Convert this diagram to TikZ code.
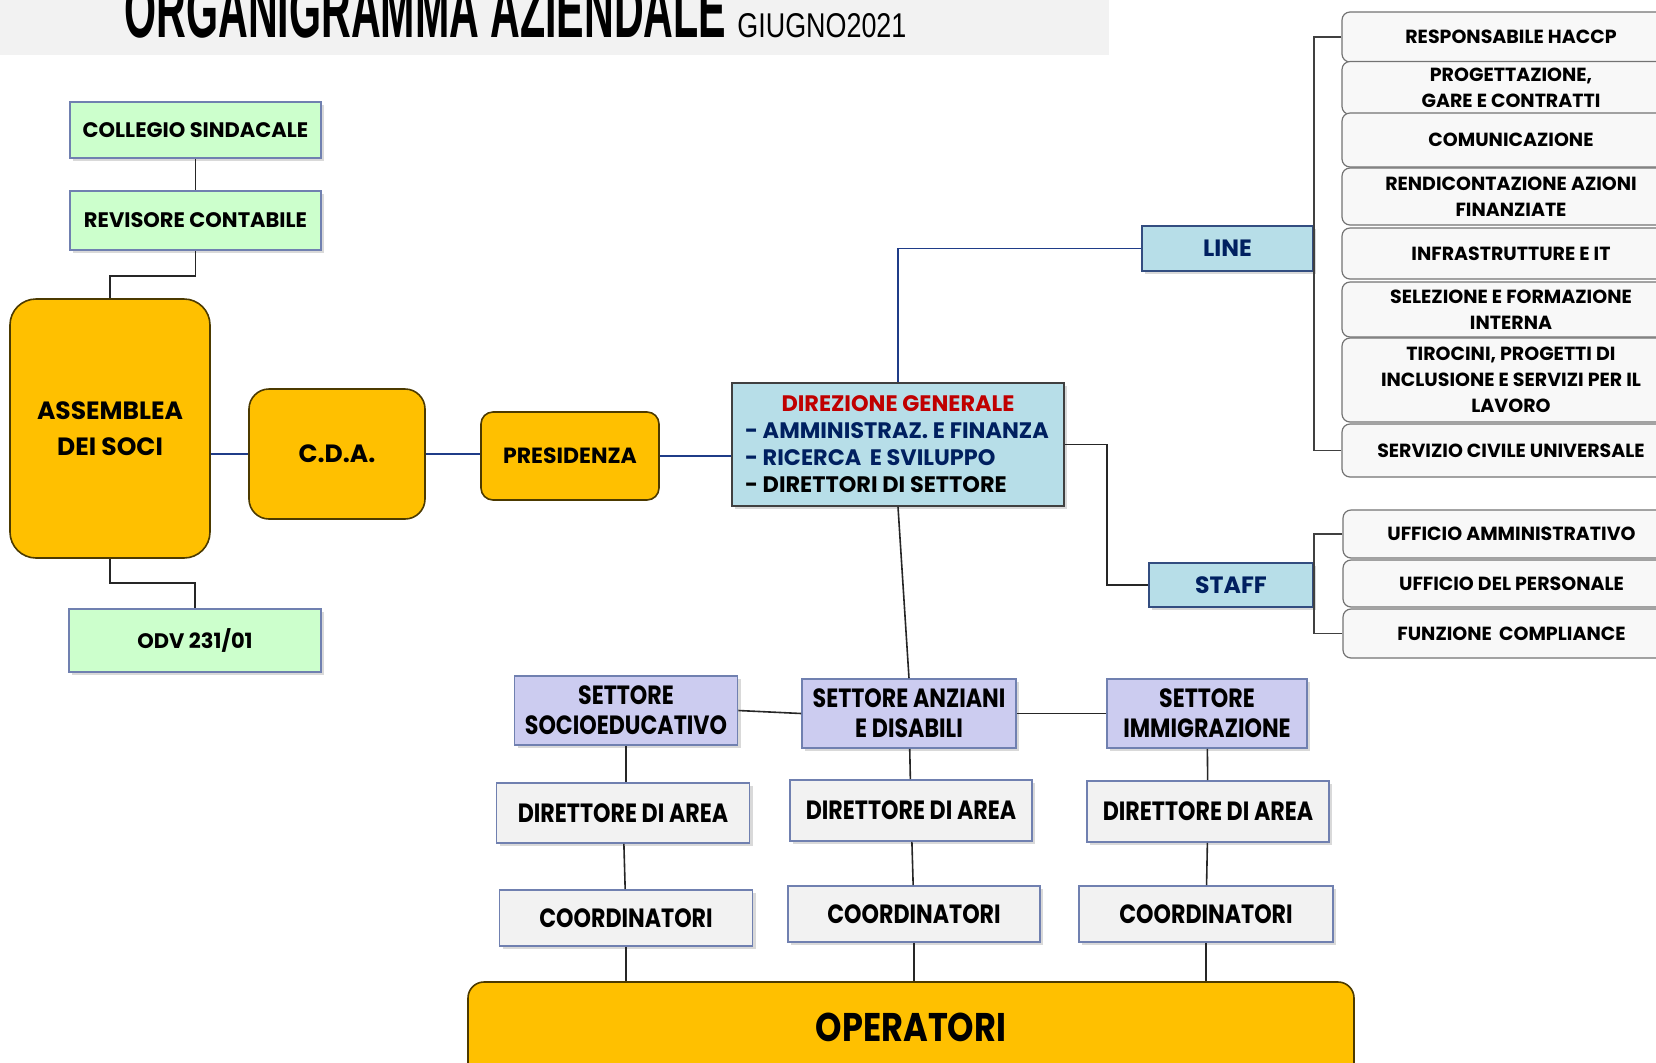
\documentclass[tikz,border=0pt]{standalone}
\usepackage{fontspec}
\usepackage{graphicx}
\setmainfont{Poppins}
\newfontfamily\condfont[FakeStretch=0.84]{Poppins}
\newfontfamily\titlefont{Liberation Sans}
\usetikzlibrary{shadows}

\definecolor{verde}{HTML}{CCFFCC}
\definecolor{arancio}{HTML}{FFC000}
\definecolor{azzurro}{HTML}{B7DEE8}
\definecolor{lilla}{HTML}{CCCCF0}
\definecolor{grigio}{HTML}{F2F2F2}
\definecolor{bianco}{HTML}{F8F8F8}
\definecolor{bordo}{HTML}{7080B0}
\definecolor{blu}{HTML}{1F3C88}
\definecolor{navy}{HTML}{002060}
\definecolor{rosso}{HTML}{C00000}
\definecolor{barra}{HTML}{F2F2F2}

\tikzset{
  ombra/.style={drop shadow={shadow xshift=1.5pt, shadow yshift=-1.5pt, opacity=0.3}},
  box/.style={draw=bordo, line width=0.8pt, inner sep=2pt, align=center},
  organo/.style={box, fill=verde, ombra, font=\fontsize{10.5}{12}\selectfont\bfseries},
  vertice/.style={draw=black!70!arancio, line width=0.8pt, fill=arancio, align=center, font=\fontsize{12.5}{18}\selectfont\bfseries},
  funzione/.style={draw=navy!80, line width=0.8pt, fill=azzurro, ombra, text=navy, font=\fontsize{11.8}{13}\selectfont\bfseries},
  voce/.style={draw=black!55, line width=0.6pt, fill=bianco, rounded corners=4pt, align=center, font=\fontsize{9.5}{13}\selectfont\bfseries},
  settore/.style={box, fill=lilla, ombra, font=\condfont\fontsize{13.2}{15}\selectfont\bfseries},
  livello/.style={box, fill=grigio, ombra, font=\condfont\fontsize{13.2}{15}\selectfont\bfseries},
  filo/.style={draw=black!85, line width=0.8pt},
  filoblu/.style={draw=blu, line width=0.9pt},
}

\begin{document}
\begin{tikzpicture}[x=0.5pt, y=-0.5pt]
  \useasboundingbox (0,0) rectangle (1656,1062);

  % intestazione
  \fill[barra] (0,0) rectangle (1109,55);
  \node[anchor=base west, inner sep=0] (titolo) at (124,37) {\resizebox{301pt}{28pt}{\titlefont\bfseries ORGANIGRAMMA AZIENDALE}};
  \node[anchor=base west, inner sep=0] (data) at (737,37) {\resizebox{84.5pt}{12pt}{\titlefont GIUGNO2021}};

  % organi di controllo e vertice
  \node[organo, minimum width=125.5pt, minimum height=28pt] (collegio) at (195.5,130) {COLLEGIO SINDACALE};
  \node[organo, minimum width=125.5pt, minimum height=29.5pt] (revisore) at (195.5,220.5) {REVISORE CONTABILE};
  \node[organo, minimum width=126pt, minimum height=31.5pt] (odv) at (195,640.5) {ODV 231/01};
  \node[vertice, rounded corners=13pt, minimum width=100pt, minimum height=129.5pt] (assemblea) at (110,428.5) {ASSEMBLEA\\DEI SOCI};
  \node[vertice, rounded corners=10pt, minimum width=88pt, minimum height=65pt] (cda) at (337,454) {C.D.A.};
  \node[vertice, rounded corners=6pt, minimum width=89pt, minimum height=44pt, font=\fontsize{11}{13}\selectfont\bfseries] (presidenza) at (570,456) {PRESIDENZA};

  \node[draw=black!75, line width=0.8pt, fill=azzurro, ombra, minimum width=166pt, minimum height=61.5pt, align=center,
        font=\fontsize{11.2}{13.5}\selectfont\bfseries] (direzione) at (898,444.5)
        {\textcolor{rosso}{DIREZIONE GENERALE}\\
         \makebox[153pt][l]{\textcolor{navy}{- AMMINISTRAZ. E FINANZA}}\\
         \makebox[153pt][l]{\textcolor{navy}{- RICERCA \,E SVILUPPO}}\\
         \makebox[153pt][l]{- DIRETTORI DI SETTORE}};

  \node[funzione, minimum width=85.5pt, minimum height=22.5pt] (line) at (1227.5,248.5) {LINE};
  \node[funzione, minimum width=82pt, minimum height=22pt] (staff) at (1231,585) {STAFF};

  % funzioni line
  \node[voce, minimum width=169pt, minimum height=25pt] (haccp) at (1511,37) {RESPONSABILE HACCP};
  \node[voce, minimum width=169pt, minimum height=24pt] (gare) at (1511,88) {PROGETTAZIONE,\\GARE E CONTRATTI};
  \node[voce, minimum width=169pt, minimum height=27pt] (comunicazione) at (1511,140) {COMUNICAZIONE};
  \node[voce, minimum width=169pt, minimum height=28.5pt] (rendiconto) at (1511,196.5) {RENDICONTAZIONE AZIONI\\FINANZIATE};
  \node[voce, minimum width=169pt, minimum height=25.5pt] (infra) at (1511,253.5) {INFRASTRUTTURE E IT};
  \node[voce, minimum width=169pt, minimum height=27.5pt] (selezione) at (1511,309.5) {SELEZIONE E FORMAZIONE\\INTERNA};
  \node[voce, minimum width=169pt, minimum height=42pt] (tirocini) at (1511,380) {TIROCINI, PROGETTI DI\\INCLUSIONE E SERVIZI PER IL\\LAVORO};
  \node[voce, minimum width=169pt, minimum height=26.5pt] (civile) at (1511,450.5) {SERVIZIO CIVILE UNIVERSALE};

  % funzioni staff
  \node[voce, minimum width=168.5pt, minimum height=24pt] (ufficioamm) at (1511.5,534) {UFFICIO AMMINISTRATIVO};
  \node[voce, minimum width=168.5pt, minimum height=23.5pt] (personale) at (1511.5,583.5) {UFFICIO DEL PERSONALE};
  \node[voce, minimum width=168.5pt, minimum height=24.5pt] (compliance) at (1511.5,633.5) {FUNZIONE \,COMPLIANCE};

  % settori
  \node[settore, minimum width=111.5pt, minimum height=34.5pt] (socio) at (626,710.5) {SETTORE\\SOCIOEDUCATIVO};
  \node[settore, minimum width=107pt, minimum height=34.5pt] (anziani) at (909,713.5) {SETTORE ANZIANI\\E DISABILI};
  \node[settore, minimum width=100pt, minimum height=34.5pt] (immigrazione) at (1207,713.5) {SETTORE\\IMMIGRAZIONE};

  \node[livello, minimum width=126.5pt, minimum height=30pt] (dirsocio) at (623,813) {DIRETTORE DI AREA};
  \node[livello, minimum width=121pt, minimum height=30.5pt] (diranziani) at (911,810.5) {DIRETTORE DI AREA};
  \node[livello, minimum width=121pt, minimum height=30.5pt] (dirimmigr) at (1208,811.5) {DIRETTORE DI AREA};

  \node[livello, minimum width=126.5pt, minimum height=28pt] (coosocio) at (626,918) {COORDINATORI};
  \node[livello, minimum width=126pt, minimum height=28pt] (cooanziani) at (914,914) {COORDINATORI};
  \node[livello, minimum width=127pt, minimum height=28pt] (cooimmigr) at (1206,914) {COORDINATORI};

  \node[vertice, rounded corners=8pt, minimum width=443pt, minimum height=49pt, font=\condfont\fontsize{20}{22}\selectfont\bfseries] (operatori) at (911,1031) {\raisebox{4pt}{OPERATORI}};

  % collegamenti
  \draw[filo] (collegio) -- (revisore);
  \draw[filo] (revisore.south) -- ++(0,25) -| (assemblea.north);
  \draw[filo] (assemblea.south) -- ++(0,24) -| (odv.north);
  \draw[filoblu] (assemblea.east |- cda.west) -- (cda.west);
  \draw[filoblu] (cda.east) -- (cda.east -| presidenza.west);
  \draw[filoblu] (presidenza.east) -- (presidenza.east -| direzione.west);
  \draw[filoblu] (direzione.north) |- (line.west);
  \coordinate (svolta) at (1107,585);
  \draw[filo] (direzione.east) -| (svolta) -- (staff.west);

  \draw[filo, black!75] (haccp.west) -| (line.east);
  \draw[filo, black!75] (civile.west) -| (line.east);
  \draw[filo, black!75] (ufficioamm.west) -| (staff.east);
  \draw[filo, black!75] (compliance.west) -| (staff.east);

  \draw[filo] (direzione.south) -- (anziani.north);
  \draw[filo] (socio.east) -- (anziani.west);
  \draw[filo] (anziani.east) -- (immigrazione.west);

  \draw[filo] (socio.south) -- (socio.south |- dirsocio.north);
  \draw[filo] (dirsocio) -- (coosocio);
  \draw[filo] (coosocio.south) -- (coosocio.south |- operatori.north);
  \draw[filo] (anziani) -- (diranziani);
  \draw[filo] (diranziani) -- (cooanziani);
  \draw[filo] (cooanziani) -- (operatori.north -| cooanziani.south);
  \draw[filo] (immigrazione) -- (dirimmigr);
  \draw[filo] (dirimmigr) -- (cooimmigr);
  \draw[filo] (cooimmigr.south) -- (cooimmigr.south |- operatori.north);
\end{tikzpicture}
\end{document}
